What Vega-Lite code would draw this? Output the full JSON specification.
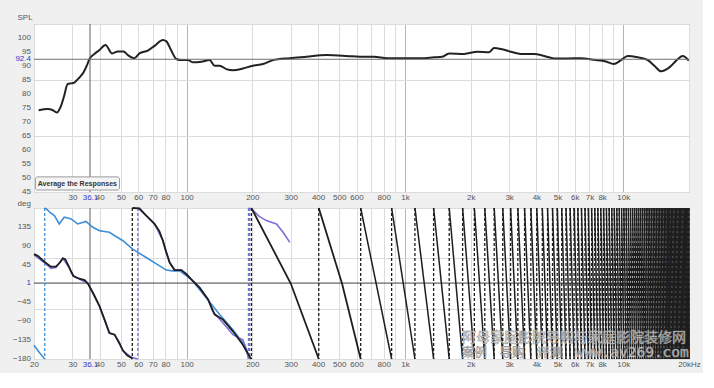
{
"$schema": "https://vega.github.io/schema/vega-lite/v6.json",
"background": "#f0f0f0",
"padding": {"left": 12, "top": 12, "right": 2, "bottom": 4},
"bounds": "flush",
"spacing": 16,
"config": {
 "view": {"stroke": "#9a9a9a", "fill": "#ffffff", "strokeWidth": 1},
 "axis": {"labelFont": "Liberation Sans", "labelFontSize": 8, "labelColor": "#555555", "ticks": false, "domain": false, "gridColor": "#dcdcdc", "gridWidth": 1, "labelPadding": 3, "titleFont": "Liberation Sans", "titleFontSize": 8, "titleFontWeight": "normal", "titleColor": "#555555"}
},
"datasets": {
 "spl": [
  {"f":21,"db":74.2},{"f":23.1,"db":74.6},{"f":24.4,"db":74.2},{"f":25.4,"db":73.4},{"f":26.6,"db":75.8},{"f":27.5,"db":79.4},{"f":28.5,"db":83.5},{"f":29.6,"db":83.8},{"f":30.6,"db":84.1},{"f":32.3,"db":85.9},{"f":33.7,"db":87.7},{"f":34.9,"db":90.1},{"f":35.9,"db":92.5},{"f":37.8,"db":94.3},{"f":39.9,"db":95.7},{"f":42.5,"db":97.5},{"f":45.6,"db":94.5},{"f":48.4,"db":95.2},{"f":51.4,"db":95.2},{"f":53.8,"db":93.9},{"f":57.7,"db":92.8},{"f":60.8,"db":94.5},{"f":66.4,"db":95.5},{"f":71.3,"db":97.2},{"f":77.9,"db":99.3},{"f":80.8,"db":98.8},{"f":85.1,"db":95.5},{"f":89.7,"db":92.5},{"f":94.6,"db":92.1},{"f":101.4,"db":92.1},{"f":107,"db":91.3},{"f":116.7,"db":91.5},{"f":127.5,"db":92.1},{"f":134.4,"db":90.1},{"f":141.7,"db":90.1},{"f":152,"db":88.9},{"f":163,"db":88.5},{"f":181,"db":89.1},{"f":201,"db":90.1},{"f":224,"db":90.7},{"f":249,"db":92.1},{"f":297,"db":92.8},{"f":354,"db":93.3},{"f":437,"db":93.9},{"f":540,"db":93.6},{"f":622,"db":93.3},{"f":721,"db":93.3},{"f":830,"db":92.8},{"f":989,"db":92.8},{"f":1180,"db":92.8},{"f":1358,"db":93.1},{"f":1483,"db":93.3},{"f":1592,"db":94.5},{"f":1866,"db":94.3},{"f":2148,"db":95.1},{"f":2429,"db":94.9},{"f":2560,"db":96.4},{"f":2748,"db":96.1},{"f":3054,"db":95.1},{"f":3395,"db":94.3},{"f":3909,"db":94.3},{"f":4345,"db":93.6},{"f":4824,"db":92.7},{"f":5555,"db":92.7},{"f":6400,"db":92.8},{"f":7366,"db":92.2},{"f":8333,"db":91.6},{"f":9034,"db":90.7},{"f":9770,"db":92.1},{"f":10480,"db":93.6},{"f":11650,"db":93.1},{"f":12950,"db":92.1},{"f":13880,"db":90.1},{"f":14890,"db":88.1},{"f":16260,"db":89.5},{"f":17460,"db":91.9},{"f":18720,"db":93.6},{"f":19950,"db":91.9}
 ],
 "phase": [
  {"s":"k","g":1,"f":20,"p":70},{"s":"k","g":1,"f":20.8,"p":66},{"s":"k","g":1,"f":22.3,"p":52},{"s":"k","g":1,"f":23.9,"p":40},{"s":"k","g":1,"f":25.2,"p":40},{"s":"k","g":1,"f":26.3,"p":50},{"s":"k","g":1,"f":27.1,"p":60},{"s":"k","g":1,"f":27.8,"p":58},{"s":"k","g":1,"f":28.8,"p":42},{"s":"k","g":1,"f":29.6,"p":28},{"s":"k","g":1,"f":30.3,"p":18},{"s":"k","g":1,"f":32,"p":12},{"s":"k","g":1,"f":34.1,"p":8},{"s":"k","g":1,"f":35.3,"p":0},{"s":"k","g":1,"f":37.5,"p":-25},{"s":"k","g":1,"f":39.9,"p":-54},{"s":"k","g":1,"f":42,"p":-85},{"s":"k","g":1,"f":44.3,"p":-118},{"s":"k","g":1,"f":46.8,"p":-122},{"s":"k","g":1,"f":49,"p":-140},{"s":"k","g":1,"f":51.1,"p":-160},{"s":"k","g":1,"f":53.5,"p":-172},{"s":"k","g":1,"f":55.8,"p":-177},{"s":"k","g":1,"f":56.4,"p":-180},
  {"s":"k","g":2,"f":56.4,"p":180},{"s":"k","g":2,"f":60.8,"p":179},{"s":"k","g":2,"f":65.3,"p":162},{"s":"k","g":2,"f":71.3,"p":142},{"s":"k","g":2,"f":75,"p":125},{"s":"k","g":2,"f":77.9,"p":102},{"s":"k","g":2,"f":80.5,"p":76},{"s":"k","g":2,"f":83.6,"p":50},{"s":"k","g":2,"f":88.1,"p":32},{"s":"k","g":2,"f":94.6,"p":32},{"s":"k","g":2,"f":100,"p":22},{"s":"k","g":2,"f":105,"p":10},{"s":"k","g":2,"f":114.7,"p":-10},{"s":"k","g":2,"f":125.4,"p":-38},{"s":"k","g":2,"f":134.4,"p":-74},{"s":"k","g":2,"f":146.8,"p":-86},{"s":"k","g":2,"f":163,"p":-114},{"s":"k","g":2,"f":181,"p":-146},{"s":"k","g":2,"f":194.4,"p":-174},{"s":"k","g":2,"f":198,"p":-180},
  {"s":"k","g":3,"f":198,"p":180},{"s":"k","g":3,"f":300,"p":0},{"s":"k","g":3,"f":403,"p":-180},
  {"s":"k","g":4,"f":403,"p":180},{"s":"k","g":4,"f":515,"p":0},{"s":"k","g":4,"f":627,"p":-180},
  {"s":"b","g":5,"f":20,"p":-147},{"s":"b","g":5,"f":21.2,"p":-165},{"s":"b","g":5,"f":22.4,"p":-180},
  {"s":"b","g":6,"f":22.4,"p":180},{"s":"b","g":6,"f":23,"p":176},{"s":"b","g":6,"f":23.6,"p":170},{"s":"b","g":6,"f":24.8,"p":162},{"s":"b","g":6,"f":26.1,"p":142},{"s":"b","g":6,"f":27.5,"p":158},{"s":"b","g":6,"f":28.5,"p":156},{"s":"b","g":6,"f":29.6,"p":154},{"s":"b","g":6,"f":31.7,"p":142},{"s":"b","g":6,"f":34.6,"p":148},{"s":"b","g":6,"f":37.2,"p":134},{"s":"b","g":6,"f":39.9,"p":126},{"s":"b","g":6,"f":42,"p":124},{"s":"b","g":6,"f":44.3,"p":122},{"s":"b","g":6,"f":47.5,"p":112},{"s":"b","g":6,"f":51.1,"p":102},{"s":"b","g":6,"f":56.6,"p":82},{"s":"b","g":6,"f":65.3,"p":62},{"s":"b","g":6,"f":75.2,"p":42},{"s":"b","g":6,"f":80.8,"p":32},{"s":"b","g":6,"f":86,"p":30},{"s":"b","g":6,"f":93,"p":30},{"s":"b","g":6,"f":105,"p":10},{"s":"b","g":6,"f":123,"p":-34},{"s":"b","g":6,"f":141.7,"p":-74},{"s":"b","g":6,"f":163,"p":-110},{"s":"b","g":6,"f":180,"p":-140},{"s":"b","g":6,"f":191,"p":-170},{"s":"b","g":6,"f":194,"p":-180},
  {"s":"v","g":7,"f":20,"p":68},{"s":"v","g":7,"f":22.3,"p":50},{"s":"v","g":7,"f":23.9,"p":36},{"s":"v","g":7,"f":25.2,"p":38},{"s":"v","g":7,"f":27.1,"p":60},{"s":"v","g":7,"f":28.8,"p":40},{"s":"v","g":7,"f":30.3,"p":18},{"s":"v","g":7,"f":35.3,"p":0},{"s":"v","g":7,"f":39.9,"p":-54},{"s":"v","g":7,"f":44.3,"p":-118},{"s":"v","g":7,"f":46.8,"p":-122},{"s":"v","g":7,"f":51.1,"p":-160},{"s":"v","g":7,"f":55.8,"p":-176},{"s":"v","g":7,"f":59.8,"p":-180},
  {"s":"v","g":8,"f":59.8,"p":180},{"s":"v","g":8,"f":65.3,"p":162},{"s":"v","g":8,"f":71.3,"p":142},{"s":"v","g":8,"f":77.9,"p":102},{"s":"v","g":8,"f":83.6,"p":50},{"s":"v","g":8,"f":88.1,"p":32},{"s":"v","g":8,"f":94.6,"p":32},{"s":"v","g":8,"f":105,"p":10},{"s":"v","g":8,"f":114.7,"p":-10},{"s":"v","g":8,"f":125.4,"p":-38},{"s":"v","g":8,"f":131.5,"p":-66},{"s":"v","g":8,"f":146.8,"p":-94},{"s":"v","g":8,"f":163,"p":-122},{"s":"v","g":8,"f":181,"p":-134},{"s":"v","g":8,"f":189,"p":-160},{"s":"v","g":8,"f":192,"p":-180},
  {"s":"v","g":9,"f":192,"p":180},{"s":"v","g":9,"f":200,"p":176},{"s":"v","g":9,"f":215,"p":160},{"s":"v","g":9,"f":232,"p":150},{"s":"v","g":9,"f":258,"p":142},{"s":"v","g":9,"f":276.6,"p":122},{"s":"v","g":9,"f":297,"p":98}
 ],
 "wraps": [
  {"s":"b","f":22.4},{"s":"k","f":56.4},{"s":"v","f":59.8},{"s":"v","f":192},{"s":"b","f":194},{"s":"k","f":198},{"s":"k","f":403}
 ],
 "segs": [
  {"a":627,"b":869},{"a":869,"b":1111},{"a":1111,"b":1353},{"a":1353,"b":1595},{"a":1595,"b":1837},{"a":1837,"b":2079},{"a":2079,"b":2321},{"a":2321,"b":2563},{"a":2563,"b":2805},{"a":2805,"b":3047},{"a":3047,"b":3289},{"a":3289,"b":3531},{"a":3531,"b":3773},{"a":3773,"b":4015},{"a":4015,"b":4257},{"a":4257,"b":4499},{"a":4499,"b":4741},{"a":4741,"b":4983},{"a":4983,"b":5225},{"a":5225,"b":5467},{"a":5467,"b":5709},{"a":5709,"b":5951},{"a":5951,"b":6193},{"a":6193,"b":6435},{"a":6435,"b":6677},{"a":6677,"b":6919},{"a":6919,"b":7161},{"a":7161,"b":7403},{"a":7403,"b":7645},{"a":7645,"b":7887},{"a":7887,"b":8129},{"a":8129,"b":8371},{"a":8371,"b":8613},{"a":8613,"b":8855},{"a":8855,"b":9097},{"a":9097,"b":9339},{"a":9339,"b":9581},{"a":9581,"b":9823},{"a":9823,"b":10065},{"a":10065,"b":10307},{"a":10307,"b":10549},{"a":10549,"b":10791},{"a":10791,"b":11033},{"a":11033,"b":11275},{"a":11275,"b":11517},{"a":11517,"b":11759},{"a":11759,"b":12001},{"a":12001,"b":12243},{"a":12243,"b":12485},{"a":12485,"b":12727},{"a":12727,"b":12969},{"a":12969,"b":13211},{"a":13211,"b":13453},{"a":13453,"b":13695},{"a":13695,"b":13937},{"a":13937,"b":14179},{"a":14179,"b":14421},{"a":14421,"b":14663},{"a":14663,"b":14905},{"a":14905,"b":15147},{"a":15147,"b":15389},{"a":15389,"b":15631},{"a":15631,"b":15873},{"a":15873,"b":16115},{"a":16115,"b":16357},{"a":16357,"b":16599},{"a":16599,"b":16841},{"a":16841,"b":17083},{"a":17083,"b":17325},{"a":17325,"b":17567},{"a":17567,"b":17809},{"a":17809,"b":18051},{"a":18051,"b":18293},{"a":18293,"b":18535},{"a":18535,"b":18777},{"a":18777,"b":19019},{"a":19019,"b":19261},{"a":19261,"b":19503},{"a":19503,"b":19745},{"a":19745,"b":19987},{"a":19987,"b":20000}
 ],
 "band": [{"f":16000},{"f":16150},{"f":19450}],
 "cursor": [{"f":36.1,"db":92.4,"p":1}],
 "button": [{"f0":20.3,"f1":49.3,"fc":31.6,"d0":50.4,"d1":45.7,"dc":48,"t":"Average the Responses"}],
 "splTicks": [{"v":100},{"v":95},{"v":92.4},{"v":90},{"v":85},{"v":80},{"v":75},{"v":70},{"v":65},{"v":60},{"v":55},{"v":50},{"v":45}],
 "degTicks": [{"v":135},{"v":90},{"v":45},{"v":1},{"v":-45},{"v":-90},{"v":-135},{"v":-180}]
},
"vconcat": [
 {
  "width": 655, "height": 168,
  "layer": [
   {
    "data": {"name": "spl"},
    "mark": {"type": "line", "color": "#222222", "strokeWidth": 2, "interpolate": "monotone"},
    "encoding": {
     "x": {"field": "f", "type": "quantitative", "title": null, "scale": {"type": "log", "domain": [20, 20000], "nice": false},
      "axis": {"values": [20,30,36.1,40,50,60,70,80,90,100,200,300,400,500,600,700,800,900,1000,2000,3000,4000,5000,6000,7000,8000,9000,10000,20000],
       "labelOverlap": false, "labelFlush": false, "labelPadding": 1,
       "labelExpr": "indexof([30,40,50,60,70,80,100,200,300,400,500,600,800,1000,2000,3000,4000,5000,6000,7000,8000,10000], datum.value) >= 0 ? (datum.value >= 1000 ? (datum.value/1000) + 'k' : datum.label) : (datum.value == 36.1 ? '36.1' : '')",
       "gridColor": {"condition": {"test": "datum.value == 100 || datum.value == 1000 || datum.value == 10000", "value": "#b4b4b4"}, "value": "#dcdcdc"},
       "gridOpacity": {"condition": {"test": "datum.value == 36.1", "value": 0}, "value": 1},
       "labelColor": {"condition": {"test": "datum.value == 36.1", "value": "#3333cc"}, "value": "#555555"}}},
     "y": {"field": "db", "type": "quantitative", "scale": {"domain": [45, 105], "nice": false, "zero": false},
      "axis": {"values": [45,50,55,60,65,70,75,80,85,90,95,100,105], "labels": false,
       "title": "SPL", "titleAngle": 0, "titleX": -17, "titleY": -5, "titleAlign": "left", "titleBaseline": "alphabetic"}}
    }
   },
   {"data": {"name": "cursor"}, "mark": {"type": "rule", "color": "#707070", "strokeWidth": 1}, "encoding": {"y": {"field": "db", "type": "quantitative"}}},
   {"data": {"name": "cursor"}, "mark": {"type": "rule", "color": "#606060", "strokeWidth": 1}, "encoding": {"x": {"field": "f", "type": "quantitative"}}},
   {"data": {"name": "splTicks"}, "mark": {"type": "text", "align": "right", "baseline": "middle", "dx": -3, "font": "Liberation Sans", "fontSize": 8},
    "encoding": {"x": {"datum": 20}, "y": {"field": "v", "type": "quantitative"}, "text": {"field": "v", "type": "quantitative"},
     "color": {"condition": {"test": "datum.v == 92.4", "value": "#3333cc"}, "value": "#555555"}}},
   {"data": {"name": "button"}, "mark": {"type": "rect", "fill": "#f4f4f4", "stroke": "#9a9a9a", "strokeWidth": 1, "cornerRadius": 2},
    "encoding": {"x": {"field": "f0", "type": "quantitative"}, "x2": {"field": "f1"}, "y": {"field": "d0", "type": "quantitative"}, "y2": {"field": "d1"}}},
   {"data": {"name": "button"}, "mark": {"type": "text", "font": "Liberation Sans", "fontSize": 7, "fontWeight": "bold", "color": "#333333"},
    "encoding": {"x": {"field": "fc", "type": "quantitative"}, "y": {"field": "dc", "type": "quantitative"}, "text": {"field": "t"}}}
  ]
 },
 {
  "width": 655, "height": 151,
  "layer": [
   {"data": {"name": "cursor"}, "mark": {"type": "rule", "color": "#404040", "strokeWidth": 1},
    "encoding": {"y": {"field": "p", "type": "quantitative", "scale": {"domain": [-180, 180], "nice": false, "zero": false},
      "axis": {"values": [-180,-165,-150,-135,-120,-105,-90,-75,-60,-45,-30,-15,0,15,30,45,60,75,90,105,120,135,150,165,180], "labels": false,
       "title": "deg", "titleAngle": 0, "titleX": -17, "titleY": -3, "titleAlign": "left", "titleBaseline": "alphabetic"}}}},
   {"data": {"name": "cursor"}, "mark": {"type": "rule", "color": "#606060", "strokeWidth": 1},
    "encoding": {
     "x": {"field": "f", "type": "quantitative", "title": null, "scale": {"type": "log", "domain": [20, 20000], "nice": false},
      "axis": {"values": [20,30,36.1,40,50,60,70,80,90,100,200,300,400,500,600,700,800,900,1000,2000,3000,4000,5000,6000,7000,8000,9000,10000,20000],
       "labelOverlap": false, "labelFlush": false, "labelPadding": 1,
       "labelExpr": "indexof([20,30,40,50,60,70,80,100,200,300,400,500,600,800,1000,2000,3000,4000,5000,6000,7000,8000,10000], datum.value) >= 0 ? (datum.value >= 1000 ? (datum.value/1000) + 'k' : datum.label) : (datum.value == 36.1 ? '36.1' : (datum.value == 20000 ? '20kHz' : ''))",
       "gridColor": {"condition": {"test": "datum.value == 100 || datum.value == 1000 || datum.value == 10000", "value": "#b4b4b4"}, "value": "#dcdcdc"},
       "gridOpacity": {"condition": {"test": "datum.value == 36.1", "value": 0}, "value": 1},
       "labelColor": {"condition": {"test": "datum.value == 36.1", "value": "#3333cc"}, "value": "#555555"}}}
    }
   },
   {"data": {"name": "degTicks"}, "mark": {"type": "text", "align": "right", "baseline": "middle", "dx": -3, "font": "Liberation Sans", "fontSize": 8},
    "encoding": {"x": {"datum": 20}, "y": {"field": "v", "type": "quantitative"}, "text": {"field": "v", "type": "quantitative"},
     "color": {"condition": {"test": "datum.v == 1", "value": "#3333cc"}, "value": "#555555"}}},
   {"data": {"name": "band"}, "mark": {"type": "rule", "color": "#2f86d6", "strokeWidth": 2.5},
    "encoding": {"x": {"field": "f", "type": "quantitative", "title": null, "scale": {"type": "log"}}}},
   {"data": {"name": "wraps"}, "mark": {"type": "rule", "strokeDash": [3, 2], "strokeWidth": 1.3},
    "encoding": {"x": {"field": "f", "type": "quantitative", "title": null, "scale": {"type": "log"}},
     "color": {"field": "s", "type": "nominal", "legend": null, "scale": {"domain": ["k", "b", "v"], "range": ["#1e1e1e", "#3f8fd8", "#7d6fd8"]}}}},
   {"data": {"name": "segs"}, "mark": {"type": "rule", "strokeDash": [3, 2], "strokeWidth": 1.3, "color": "#1e1e1e"},
    "encoding": {"x": {"field": "a", "type": "quantitative", "title": null, "scale": {"type": "log"}}}},
   {"data": {"name": "segs"}, "mark": {"type": "rule", "strokeWidth": 1.5, "color": "#1e1e1e"},
    "encoding": {"x": {"field": "a", "type": "quantitative", "title": null, "scale": {"type": "log"}}, "x2": {"field": "b"}, "y": {"datum": 180}, "y2": {"datum": -180}}},
   {"data": {"name": "phase"}, "transform": [{"filter": "datum.s == 'b'"}],
    "mark": {"type": "line", "strokeWidth": 1.6, "color": "#3f8fd8"},
    "encoding": {"x": {"field": "f", "type": "quantitative", "title": null, "scale": {"type": "log"}}, "y": {"field": "p", "type": "quantitative"}, "detail": {"field": "g"}}},
   {"data": {"name": "phase"}, "transform": [{"filter": "datum.s == 'v'"}],
    "mark": {"type": "line", "strokeWidth": 1.6, "color": "#7d6fd8"},
    "encoding": {"x": {"field": "f", "type": "quantitative", "title": null, "scale": {"type": "log"}}, "y": {"field": "p", "type": "quantitative"}, "detail": {"field": "g"}}},
   {"data": {"name": "phase"}, "transform": [{"filter": "datum.s == 'k'"}],
    "mark": {"type": "line", "strokeWidth": 1.8, "color": "#1e1e1e"},
    "encoding": {"x": {"field": "f", "type": "quantitative", "title": null, "scale": {"type": "log"}}, "y": {"field": "p", "type": "quantitative"}, "detail": {"field": "g"}}},
   {"data": {"values": [{"t": "阿母家庭影院导购与家庭影院装修网"}]},
    "mark": {"type": "text", "font": "Noto Sans CJK SC", "fontSize": 14, "align": "left", "baseline": "middle", "fill": "#ffffff", "fillOpacity": 0.75, "stroke": "#8a8a8a", "strokeWidth": 0.5},
    "encoding": {"x": {"datum": 1825}, "y": {"datum": -130}, "text": {"field": "t"}}},
   {"data": {"values": [{"t": "案例　导购　评测"}]},
    "mark": {"type": "text", "font": "Noto Sans CJK SC", "fontSize": 12.5, "align": "left", "baseline": "middle", "fill": "#ffffff", "fillOpacity": 0.75, "stroke": "#8a8a8a", "strokeWidth": 0.5},
    "encoding": {"x": {"datum": 1825}, "y": {"datum": -165}, "text": {"field": "t"}}},
   {"data": {"values": [{"t": "www.av269.com"}]},
    "mark": {"type": "text", "font": "DejaVu Sans Mono", "fontSize": 14.5, "align": "left", "baseline": "middle", "fill": "#ffffff", "fillOpacity": 0.75, "stroke": "#8a8a8a", "strokeWidth": 0.5},
    "encoding": {"x": {"datum": 6030}, "y": {"datum": -165}, "text": {"field": "t"}}}
  ]
 }
]
}
